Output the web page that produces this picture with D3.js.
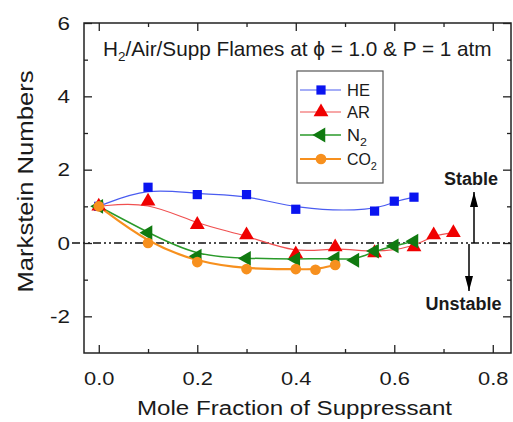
<!DOCTYPE html>
<html><head><meta charset="utf-8">
<script src="https://cdn.jsdelivr.net/npm/d3@7"></script>
<style>body{margin:0;background:#fff}svg{display:block}text{font-family:"Liberation Sans",Arial,sans-serif;fill:#1a1a1a}</style>
</head><body><svg id="c" width="513" height="422"></svg>
<script>
const heX=[0,0.1,0.2,0.3,0.4,0.56,0.6,0.64];
const heY=[1.0,1.52,1.32,1.32,0.92,0.87,1.14,1.25];
const arX=[0,0.1,0.2,0.3,0.4,0.48,0.56,0.64,0.68,0.72];
const arY=[1.0,1.14,0.5,0.22,-0.3,-0.11,-0.27,-0.11,0.22,0.28];
const n2X=[0,0.1,0.2,0.3,0.4,0.48,0.52,0.56,0.6,0.64];
const n2Y=[1.0,0.28,-0.36,-0.42,-0.44,-0.42,-0.47,-0.22,-0.08,0.05];
const co2X=[0,0.1,0.2,0.3,0.4,0.44,0.48];
const co2Y=[1.0,0.0,-0.52,-0.71,-0.71,-0.73,-0.6];
const xMajor=[0,0.2,0.4,0.6,0.8], xMinor=[0.1,0.3,0.5,0.7];
const yMajor=[-2,0,2,4,6], yMinor=[-1,1,3,5];
const seriesNames=["HE","AR","N2","CO2"];

const svg=d3.select("#c");
const L=84,T=23,R=511,B=353;
const x=d3.scaleLinear().domain([-0.03,0.837]).range([L,R]);
const y=d3.scaleLinear().domain([-3,6]).range([B,T]);

function stretchBy(sel,f){
  sel.each(function(){const w=this.getComputedTextLength();d3.select(this).attr("textLength",w*f).attr("lengthAdjust","spacingAndGlyphs");});
}
function fitWidth(el,ax,target){
  const w=el.node().getBBox().width;
  el.attr("transform",`translate(${ax},0) scale(${target/w},1) translate(${-ax},0)`);
}

// zero reference line
svg.append("line").attr("x1",72).attr("x2",R).attr("y1",y(0)).attr("y2",y(0))
  .attr("stroke","#111").attr("stroke-width",1.5).attr("stroke-dasharray","8,3,2,3,2,3");

const fmtX=d3.format(".1f");
const fmtY=d=>String(d);
function ax(gen,tr,vals,size,labels,pad){
  const g=svg.append("g").attr("transform",tr).call(gen.tickValues(vals).tickSize(size).tickPadding(pad||0).tickFormat(labels?labels:()=>""));
  g.select(".domain").remove();
  g.selectAll(".tick line").attr("stroke","#222").attr("stroke-width",1.3);
  g.selectAll("text").attr("font-size",19).attr("fill","#1a1a1a").attr("font-family","Liberation Sans, Arial, sans-serif");
  return g;
}
const gx=ax(d3.axisBottom(x),`translate(0,${B})`,xMajor,-8,fmtX,19);
stretchBy(gx.selectAll("text"),1.15);
ax(d3.axisBottom(x),`translate(0,${B})`,xMinor,-4,null);
ax(d3.axisTop(x),`translate(0,${T})`,xMajor,-8,null);
ax(d3.axisTop(x),`translate(0,${T})`,xMinor,-4,null);
const gy=ax(d3.axisLeft(y),`translate(${L},0)`,yMajor,-8,fmtY,14);
stretchBy(gy.selectAll("text"),1.18);
ax(d3.axisLeft(y),`translate(${L},0)`,yMinor,-4,null);
ax(d3.axisRight(y),`translate(${R},0)`,yMajor,-8,null);
ax(d3.axisRight(y),`translate(${R},0)`,yMinor,-4,null);
svg.append("rect").attr("x",L).attr("y",T).attr("width",R-L).attr("height",B-T)
  .attr("fill","none").attr("stroke","#222").attr("stroke-width",1.5);

// series
const series=[
 {name:"HE",xs:heX,ys:heY,color:"#0a14f0",line:"#4a5cf0",lw:1.2,sym:d3.symbolSquare,size:85,rot:0},
 {name:"AR",xs:arX,ys:arY,color:"#f00000",line:"#f05050",lw:1.2,sym:d3.symbolTriangle,size:95,rot:0},
 {name:"N2",xs:n2X,ys:n2Y,color:"#107a10",line:"#2a9a2a",lw:1.5,sym:d3.symbolTriangle,size:95,rot:-90},
 {name:"CO2",xs:co2X,ys:co2Y,color:"#f7901e",line:"#f7901e",lw:2.2,sym:d3.symbolCircle,size:90,rot:0}
];
const line=d3.line().x(d=>x(d[0])).y(d=>y(d[1])).curve(d3.curveBasis);
series.forEach(s=>{
  const pts=s.xs.map((v,i)=>[v,s.ys[i]]);
  svg.append("path").attr("d",line(pts)).attr("fill","none").attr("stroke",s.line).attr("stroke-width",s.lw);
});
series.forEach(s=>{
  const pts=s.xs.map((v,i)=>[v,s.ys[i]]);
  svg.append("g").selectAll("path").data(pts).join("path")
    .attr("d",d3.symbol().type(s.sym).size(s.size))
    .attr("transform",d=>`translate(${x(d[0])},${y(d[1])}) rotate(${s.rot})`)
    .attr("fill",s.color);
});

// legend
svg.append("rect").attr("x",297).attr("y",71).attr("width",86).attr("height",112)
  .attr("fill","#fff").attr("stroke","#555").attr("stroke-width",1.2);
const ly=[90,112,135,159];
const lw=[23,23,20,30];
series.forEach((s,i)=>{
  svg.append("line").attr("x1",300).attr("x2",341).attr("y1",ly[i]).attr("y2",ly[i]).attr("stroke",s.line).attr("stroke-width",s.lw);
  svg.append("path").attr("d",d3.symbol().type(s.sym).size(s.size)()).attr("transform",`translate(321,${ly[i]}) rotate(${s.rot})`).attr("fill",s.color);
  const t=svg.append("text").attr("x",347).attr("y",ly[i]+6).attr("font-size",16);
  if(s.name.endsWith("2")){
    t.append("tspan").text(s.name.slice(0,-1));
    t.append("tspan").attr("font-size",11).attr("dy",5).text("2");
  } else t.text(s.name);
  fitWidth(t,347,lw[i]);
});

// title
const tt=svg.append("text").attr("x",103).attr("y",56).attr("font-size",20);
tt.append("tspan").text("H");
tt.append("tspan").attr("font-size",13).attr("dy",5).text("2");
tt.append("tspan").attr("dy",-5).text("/Air/Supp Flames at ϕ = 1.0 & P = 1 atm");
fitWidth(tt,103,389);

// axis titles
svg.append("text").attr("x",294.5).attr("y",415).attr("text-anchor","middle").attr("font-size",20)
  .attr("textLength",315).attr("lengthAdjust","spacingAndGlyphs").text("Mole Fraction of Suppressant");
svg.append("text").attr("transform","translate(33,181.5) rotate(-90)").attr("text-anchor","middle").attr("font-size",22)
  .attr("textLength",222).attr("lengthAdjust","spacingAndGlyphs").text("Markstein Numbers");

// stable/unstable
svg.append("text").attr("x",471).attr("y",185).attr("text-anchor","middle").attr("font-size",18).attr("font-weight","bold").text("Stable");
svg.append("text").attr("x",463.5).attr("y",310).attr("text-anchor","middle").attr("font-size",18).attr("font-weight","bold").text("Unstable");
svg.append("defs").append("marker").attr("id","ah").attr("viewBox","0 0 15 8").attr("refX",15).attr("refY",4)
  .attr("markerWidth",15).attr("markerHeight",8).attr("markerUnits","userSpaceOnUse").attr("orient","auto")
  .append("path").attr("d","M0,0 L15,4 L0,8 Z").attr("fill","#000");
svg.append("line").attr("x1",474).attr("x2",474).attr("y1",y(0)).attr("y2",192).attr("stroke","#000").attr("stroke-width",1.5).attr("marker-end","url(#ah)");
svg.append("line").attr("x1",469).attr("x2",469).attr("y1",y(0)+1).attr("y2",291).attr("stroke","#000").attr("stroke-width",1.5).attr("marker-end","url(#ah)");
</script></body></html>
